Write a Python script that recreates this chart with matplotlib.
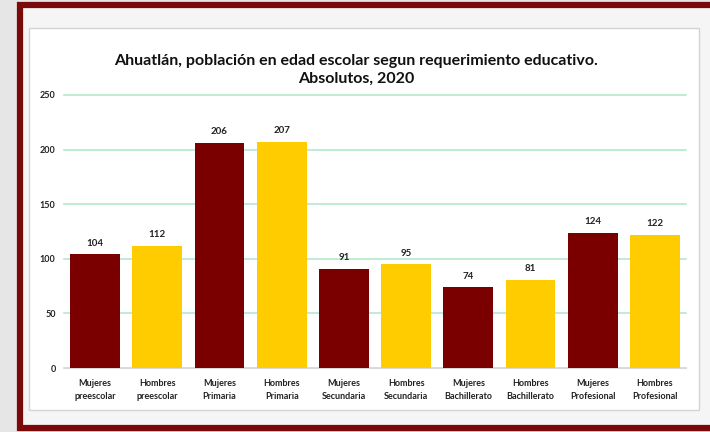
import matplotlib.pyplot as plt
import matplotlib.patches as patches

# datos
categorias = ['Mujeres\npreescolar', 'Hombres\npreescolar', 'Mujeres\nPrimaria', 'Hombres\nPrimaria',
              'Mujeres\nSecundaria', 'Hombres\nSecundaria', 'Mujeres\nBachillerato', 'Hombres\nBachillerato',
              'Mujeres\nProfesional', 'Hombres\nProfesional']
valores = [104, 112, 206, 207, 91, 95, 74, 81, 124, 122]
y_ticks = [0, 50, 100, 150, 200, 250]
titulo = 'Ahuatlán, población en edad escolar segun requerimiento educativo.\nAbsolutos, 2020'

rojo = '#7a0000'
amarillo = '#ffcc00'
colores = [rojo if c.startswith('Mujeres') else amarillo for c in categorias]

plt.rcParams['font.family'] = ['Lato', 'DejaVu Sans']

W, H = 710, 432
fig = plt.figure(figsize=(W / 100, H / 100), dpi=100)
fig.patch.set_facecolor('#e6e6e6')

# marco rojo y caja blanca
fig.patches.append(patches.Rectangle((20 / W, 1 - 428 / H), 700 / W, 423 / H, transform=fig.transFigure,
                                     facecolor='#f5f5f5', edgecolor='#7a0a0a', linewidth=4.5, zorder=-2))
fig.patches.append(patches.Rectangle((29 / W, 1 - 410 / H), 670 / W, 382 / H, transform=fig.transFigure,
                                     facecolor='white', edgecolor='#d4d4d4', linewidth=1, zorder=-1))

ax = fig.add_axes([64 / W, 1 - 368 / H, 622 / W, 273 / H])
ax.set_zorder(5)
ax.set_facecolor('none')
x = range(len(categorias))
barras = ax.bar(x, valores, width=0.8, color=colores, zorder=3)
for b, v in zip(barras, valores):
    ax.text(b.get_x() + b.get_width() / 2, v + 6, str(v), ha='center', va='bottom',
            fontsize=7, fontweight='bold', color='#222222')

ax.set_ylim(0, 250)
ax.set_xlim(-0.5, len(categorias) - 0.5)
ax.set_yticks(y_ticks)
ax.yaxis.grid(True, color='#b4e8cc', linewidth=1.2, zorder=0)
for g in ax.get_ygridlines():
    g.set_clip_on(False)
ax.set_axisbelow(True)
for s in ['top', 'right', 'left']:
    ax.spines[s].set_visible(False)
ax.spines['bottom'].set_color('#d9d9d9')
ax.tick_params(axis='both', length=0, labelsize=6.5, colors='#222222')
ax.tick_params(axis='y', pad=6)
ax.tick_params(axis='x', pad=8)
ax.set_xticks(list(x))
ax.set_xticklabels(categorias, fontweight='bold', linespacing=1.5)
for t in ax.get_yticklabels():
    t.set_fontweight('bold')

fig.text(356 / W, 1 - 70 / H, titulo, ha='center', va='center', fontsize=11.5, fontweight='bold',
         linespacing=1.4, color='#111111')

fig.savefig('out.png', dpi=100)
